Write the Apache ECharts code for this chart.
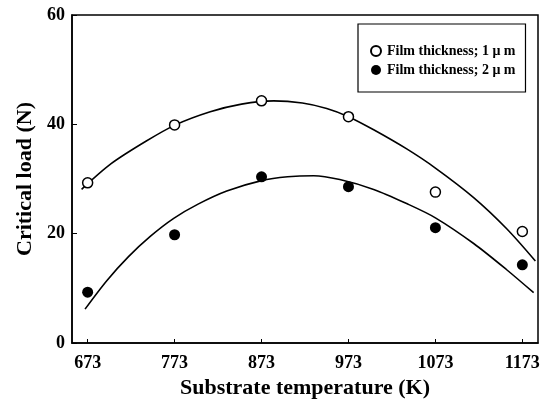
<!DOCTYPE html>
<html>
<head>
<meta charset="utf-8">
<script src="https://cdn.jsdelivr.net/npm/echarts@6/dist/echarts.min.js"></script>
<style>
  html, body { margin: 0; padding: 0; background: #fff; }
  #chart { width: 547px; height: 412px; }
</style>
</head>
<body>
<div id="chart"></div>
<script>
// measured points
const temps = [673, 773, 873, 973, 1073, 1173]
const load1um = [29.3, 39.9, 44.3, 41.4, 27.6, 20.4]
const load2um = [9.3, 19.8, 30.4, 28.6, 21.1, 14.3]

// fitted curves
const curve1Temps = [666, 700, 740, 774, 814, 850, 887, 920, 948, 973, 1002, 1040, 1073, 1117, 1155, 1188]
const curve1Load = [28.1, 32.8, 36.9, 39.9, 42.3, 43.7, 44.3, 43.9, 42.9, 41.4, 39.0, 35.5, 32.0, 26.6, 20.9, 15.0]
const curve2Temps = [670, 695, 720, 745, 772, 800, 833, 873, 903, 933, 963, 1002, 1040, 1073, 1117, 1155, 1186]
const curve2Load = [6.2, 11.4, 15.8, 19.5, 22.8, 25.4, 27.8, 29.7, 30.4, 30.6, 29.9, 28.1, 25.5, 22.9, 18.2, 13.4, 9.2]

const yTicks = [0, 20, 40, 60]

const font = 'Liberation Serif'
const pair = (xs, ys) => xs.map((x, i) => [x, ys[i]])

const myChart = echarts.init(document.getElementById('chart'))
const option = {
  animation: false,
  backgroundColor: '#fff',
  grid: {
    left: 72,
    top: 15,
    right: 9,
    bottom: 69,
    show: true,
    borderColor: '#000',
    borderWidth: 1.5
  },
  legend: {
    left: 358,
    top: 24,
    orient: 'vertical',
    data: ['Film thickness; 1 \u03bc m', 'Film thickness; 2 \u03bc m'],
    padding: [20, 10, 15, 12],
    itemGap: 5,
    itemWidth: 12,
    itemHeight: 10,
    borderColor: '#000',
    borderWidth: 1.2,
    textStyle: {
      fontFamily: font,
      fontWeight: 'bold',
      fontSize: 14,
      lineHeight: 14,
      color: '#000'
    }
  },
  xAxis: {
    type: 'value',
    min: 655,
    max: 1191,
    name: 'Substrate temperature (K)',
    nameLocation: 'middle',
    nameGap: 33,
    nameTextStyle: { fontFamily: font, fontWeight: 'bold', fontSize: 22, color: '#000' },
    splitLine: { show: false },
    axisLine: { lineStyle: { color: '#000', width: 1.5 } },
    axisTick: { inside: true, length: 4, customValues: temps, lineStyle: { color: '#000' } },
    axisLabel: {
      customValues: temps,
      formatter: (v) => String(v),
      margin: 11,
      fontFamily: font,
      fontWeight: 'bold',
      fontSize: 18,
      color: '#000'
    }
  },
  yAxis: {
    type: 'value',
    min: 0,
    max: 60,
    name: 'Critical load (N)',
    nameLocation: 'middle',
    nameGap: 36,
    nameTextStyle: { fontFamily: font, fontWeight: 'bold', fontSize: 22, color: '#000' },
    splitLine: { show: false },
    axisLine: { lineStyle: { color: '#000', width: 1.5 } },
    axisTick: { inside: true, length: 5, customValues: yTicks, lineStyle: { color: '#000' } },
    axisLabel: {
      customValues: yTicks,
      margin: 7,
      fontFamily: font,
      fontWeight: 'bold',
      fontSize: 18,
      color: '#000'
    }
  },
  series: [
    {
      type: 'line',
      data: pair(curve1Temps, curve1Load),
      smooth: 0.3,
      showSymbol: false,
      silent: true,
      lineStyle: { color: '#000', width: 1.6 }
    },
    {
      type: 'line',
      data: pair(curve2Temps, curve2Load),
      smooth: 0.3,
      showSymbol: false,
      silent: true,
      lineStyle: { color: '#000', width: 1.6 }
    },
    {
      name: 'Film thickness; 1 \u03bc m',
      type: 'scatter',
      data: pair(temps, load1um),
      symbol: 'circle',
      symbolSize: 10,
      z: 5,
      itemStyle: { color: '#fff', borderColor: '#000', borderWidth: 1.5, opacity: 1 }
    },
    {
      name: 'Film thickness; 2 \u03bc m',
      type: 'scatter',
      data: pair(temps, load2um),
      symbol: 'circle',
      symbolSize: 11,
      z: 5,
      itemStyle: { color: '#000', opacity: 1 }
    }
  ]
}
myChart.setOption(option)
</script>
</body>
</html>
